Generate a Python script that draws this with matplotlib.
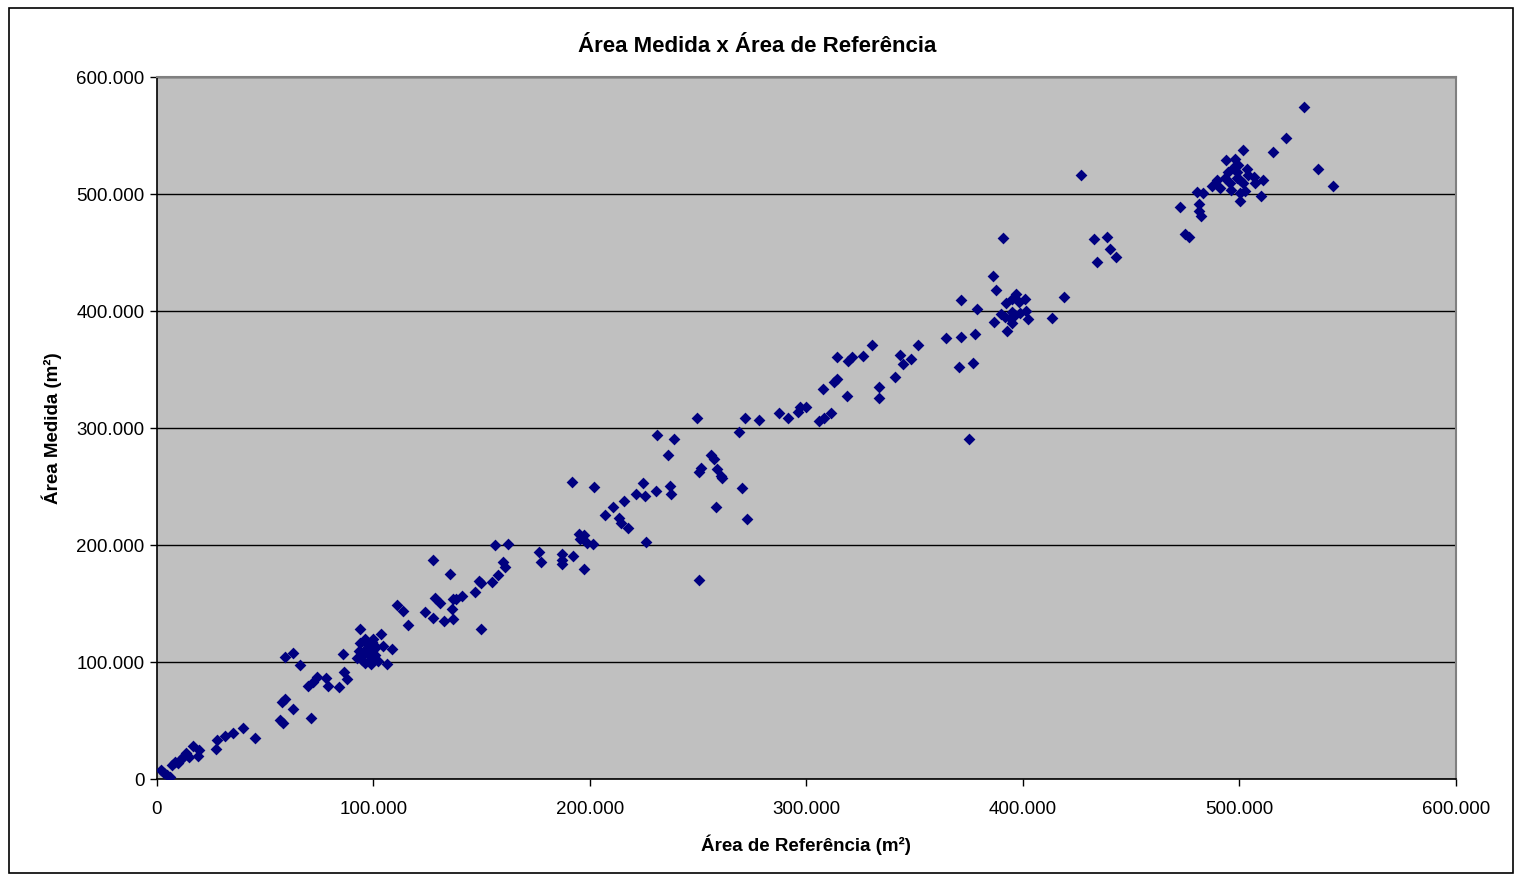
import numpy as np
import matplotlib
matplotlib.use("Agg")
import matplotlib.pyplot as plt
from matplotlib.ticker import FuncFormatter, MultipleLocator

plt.rcParams['font.family'] = ['Liberation Sans', 'DejaVu Sans']

# area de referencia x area medida, em milhares de m2
area_ref = [
    1.8, 3.2, 4.6, 6.0, 6.8, 8.3, 9.8, 10.9, 12.1, 13.4, 14.9, 16.8, 19.5, 18.8,
    27.1, 27.9, 31.4, 35.2, 39.9, 45.3, 56.8, 58.3, 57.6, 59.1, 62.7, 59.1, 62.7,
    66.1, 69.9, 72.2, 73.8, 71.1, 78.1, 79.1, 84.1, 86.1, 86.5, 87.6,
    93.9, 96.1, 99.9, 103.5, 104.5, 108.4, 102.2, 106.1, 92.4, 94.7, 96.1, 97.5,
    99.3, 100.7, 98.4, 96.1, 94.7, 93.3, 99.3, 101.2, 98.8, 97.0, 100.2, 93.8,
    110.7, 113.5, 115.8, 123.6, 127.3, 135.3, 127.3, 128.4, 130.7, 132.6, 136.1,
    136.9, 136.9, 138.1, 141.0, 146.9, 148.6, 149.7, 149.7, 154.9, 157.4, 159.7,
    160.7, 156.1, 162.0, 176.4, 177.2, 187.2, 186.9, 187.2, 192.0, 197.1, 191.7,
    201.9, 195.1, 197.2, 195.4, 198.8, 201.2, 206.8, 210.8, 213.3, 214.2, 217.4,
    215.7, 221.3, 224.3, 225.4, 225.9, 230.5, 230.8, 235.9, 237.0, 237.4, 238.8,
    249.6, 271.6, 278.1, 269.0, 255.9, 257.4, 251.1, 250.5, 258.5, 260.4, 260.8,
    270.1, 258.2, 272.4, 250.5, 287.3, 291.3, 295.9, 297.0, 299.6, 305.8, 308.1,
    311.3, 307.5, 312.8, 314.2, 318.9, 314.2, 319.3, 320.9, 326.2, 330.4, 333.4,
    333.4, 341.0, 343.2, 344.4, 348.4, 351.4, 364.4, 371.5, 377.7, 371.5, 378.8,
    370.6, 377.0, 375.1, 390.9, 386.1, 387.5, 392.3, 394.8, 396.8, 398.3, 401.1,
    389.7, 391.7, 394.8, 396.3, 398.6, 401.4, 402.2, 394.9, 386.7, 392.6, 413.4,
    394.0, 418.9, 426.7, 432.7, 438.7, 440.2, 443.0, 434.0, 472.7, 474.8, 476.8,
    481.3, 481.2, 482.1, 480.5, 483.3, 487.2, 489.8, 491.0, 493.6, 493.5, 495.6,
    496.1, 497.9, 501.8, 497.1, 498.7, 498.7, 500.2, 503.6, 504.1, 501.8, 500.2,
    502.5, 500.2, 506.8, 507.2, 511.0, 510.1, 515.6, 521.4, 529.8, 536.1, 543.1,
    494.7, 499.2,
]
area_med = [
    7.7, 5.1, 3.4, 1.7, 12.0, 14.8, 13.9, 16.8, 19.1, 22.0, 19.1, 28.2, 24.8, 19.7,
    25.4, 33.3, 37.0, 39.6, 43.3, 35.3, 50.4, 47.6, 66.1, 68.1, 59.8, 104.0, 107.4,
    97.2, 79.5, 83.2, 87.4, 52.4, 86.1, 79.7, 78.9, 106.6, 91.7, 85.2,
    127.9, 119.4, 119.9, 123.7, 113.7, 110.9, 101.1, 98.3, 103.4, 106.0, 110.3, 114.5,
    109.4, 106.0, 101.7, 99.1, 101.7, 109.4, 117.1, 112.8, 98.3, 107.7, 101.7, 116.2,
    148.7, 143.8, 131.4, 142.5, 187.2, 175.2, 137.3, 154.4, 150.2, 135.3, 145.0,
    137.0, 153.8, 153.6, 156.4, 159.6, 169.5, 167.3, 127.9, 168.6, 174.4, 185.7,
    180.9, 200.0, 200.9, 194.3, 185.5, 192.3, 187.2, 183.5, 190.6, 179.5, 253.8,
    249.8, 209.4, 208.8, 204.9, 201.5, 200.6, 225.6, 232.2, 222.8, 219.1, 214.3,
    237.9, 243.3, 252.7, 241.6, 202.8, 246.4, 294.0, 276.9, 250.4, 243.6, 290.3,
    308.3, 308.3, 306.8, 296.6, 276.9, 273.3, 265.6, 262.1, 264.7, 259.0, 257.0,
    249.0, 232.7, 222.5, 169.8, 312.6, 308.8, 313.9, 318.2, 317.7, 306.2, 308.3,
    312.6, 333.1, 339.6, 341.9, 327.6, 360.9, 357.5, 360.4, 361.8, 370.9, 334.8,
    325.4, 343.3, 362.4, 354.7, 359.2, 370.9, 376.7, 377.8, 380.1, 409.4, 402.0,
    351.9, 355.8, 290.6, 462.1, 430.2, 417.7, 406.6, 410.3, 414.5, 407.4, 410.5,
    397.4, 395.1, 399.4, 396.6, 398.0, 400.0, 392.9, 390.0, 390.9, 383.2, 393.8,
    393.8, 411.7, 516.5, 461.8, 463.0, 453.0, 445.9, 441.9, 489.2, 465.6, 463.5,
    491.2, 485.7, 481.2, 501.7, 500.6, 506.8, 512.0, 504.9, 528.8, 513.4, 509.1,
    503.4, 529.7, 537.4, 522.5, 519.1, 513.4, 512.0, 521.1, 516.2, 509.7, 500.6,
    502.8, 494.0, 514.3, 509.1, 512.0, 498.3, 535.9, 547.9, 574.1, 521.6, 506.8,
    518.8, 525.1,
]

x = np.array(area_ref) * 1000
y = np.array(area_med) * 1000

fig = plt.figure(figsize=(15.15, 8.75), dpi=100)
ax = fig.add_axes([0.1036, 0.1097, 0.8574, 0.8023])
ax.set_facecolor('#C0C0C0')

ax.scatter(x, y, marker='D', s=36, color='#000080', linewidths=0, zorder=3)

ax.set_xlim(0, 600000)
ax.set_ylim(0, 600000)
ax.xaxis.set_major_locator(MultipleLocator(100000))
ax.yaxis.set_major_locator(MultipleLocator(100000))
fmt = FuncFormatter(lambda v, p: f"{int(round(v)):,}".replace(",", "."))
ax.xaxis.set_major_formatter(fmt)
ax.yaxis.set_major_formatter(fmt)
ax.yaxis.grid(True, color='black', linewidth=1.0)
ax.set_axisbelow(True)

for side in ['top', 'right']:
    ax.spines[side].set_color('#808080')
    ax.spines[side].set_linewidth(1.5)
for side in ['left', 'bottom']:
    ax.spines[side].set_color('black')
    ax.spines[side].set_linewidth(1.2)

ax.tick_params(direction='out', length=5, width=1, labelsize=13.5)
ax.tick_params(axis='x', pad=11)
ax.tick_params(axis='y', pad=4)

fig.text(0.5, 1 - 46 / 875, 'Área Medida x Área de Referência', ha='center', va='center',
         fontsize=16, fontweight='bold')
ax.set_xlabel('Área de Referência (m²)', fontsize=13.5, fontweight='bold', labelpad=12)
ax.set_ylabel('Área Medida (m²)', fontsize=13.5, fontweight='bold', labelpad=10)

# moldura do grafico
frame = plt.Rectangle((9 / 1515, 2 / 875), 1 - 11 / 1515, 1 - 10 / 875,
                      transform=fig.transFigure, fill=False,
                      edgecolor='black', linewidth=1.2)
fig.patches.append(frame)

fig.savefig('out.png', dpi=100)
